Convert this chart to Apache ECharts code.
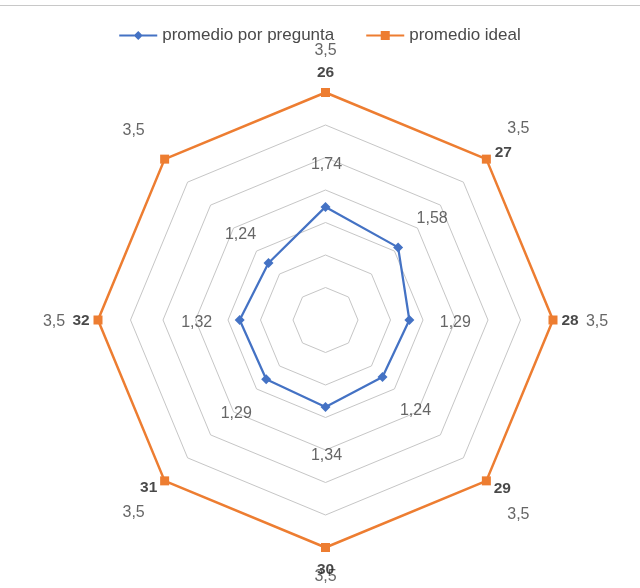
<!DOCTYPE html>
<html>
<head>
<meta charset="utf-8">
<script src="https://cdn.jsdelivr.net/npm/echarts@6/dist/echarts.min.js"></script>
<style>
html,body{margin:0;padding:0;background:#fff;}
#chart{width:640px;height:588px;}
</style>
</head>
<body>
<div id="chart"></div>
<script>
// ---- data (clockwise from the top) ----
const categories = ['26', '27', '28', '29', '30', '31', '32', ''];
const promedioPregunta = [1.74, 1.58, 1.29, 1.24, 1.34, 1.29, 1.32, 1.24];
const promedioIdeal = [3.5, 3.5, 3.5, 3.5, 3.5, 3.5, 3.5, 3.5];
const seriesNames = ['promedio por pregunta', 'promedio ideal'];
const axisMin = 0, axisMax = 3.5, ringCount = 7;

// ---- styling ----
const BLUE = '#4472C4', ORANGE = '#ED7D31';
const CENTER = [325.5, 320], RADIUS = 227.5;
const blueLabelOffsets = [[1,-42],[34,-29],[46,3],[33,34],[1,48],[-30,34],[-43,3],[-28,-28]];
const orangeLabelOffsets = [[0,-42],[32,-31],[44,2],[32,34],[0,29],[-31,32],[-44,2],[-31,-29]];
const nameOffsets = [[0,-20],[17,-6],[17,1],[16,8],[0,22],[-16,7],[-17,1],[0,0]];
const FONT = 'Liberation Sans';

// radar lays out indicators counter-clockwise -> reorder
const ccw = a => [a[0]].concat(a.slice(1).reverse());
const fmt = v => String(v).replace('.', ',');

const chart = echarts.init(document.getElementById('chart'), null, {renderer: 'canvas'});

function labelSeries(values, offsets, formatter, style) {
  return {
    type: 'scatter', coordinateSystem: 'polar', silent: true, z: 10,
    symbolSize: 1, itemStyle: {color: 'rgba(0,0,0,0)'},
    data: values.map((v, i) => ({value: [v, i], label: {offset: offsets[i]}})),
    label: Object.assign({show: true, position: 'inside', formatter: formatter}, style)
  };
}

chart.setOption({
  animation: false,
  backgroundColor: '#fff',
  graphic: [{type: 'line', shape: {x1: 0, y1: 5.5, x2: 640, y2: 5.5}, style: {stroke: '#c8c8c8', lineWidth: 1}}],
  legend: {
    top: 22, left: 'center', itemGap: 32, itemWidth: 38, itemHeight: 9,
    textStyle: {fontFamily: FONT, fontSize: 17, color: '#4a4a4a'},
    data: [
      {name: seriesNames[0], icon: 'path://M0,3.5 H38 V5.5 H0 Z M19,0 L23.5,4.5 L19,9 L14.5,4.5 Z', itemStyle: {color: BLUE}},
      {name: seriesNames[1], icon: 'path://M0,3.5 H38 V5.5 H0 Z M14.5,0 H23.5 V9 H14.5 Z', itemStyle: {color: ORANGE}}
    ]
  },
  radar: {
    center: CENTER, radius: RADIUS, startAngle: 90, shape: 'polygon', splitNumber: ringCount,
    indicator: ccw(categories).map(n => ({name: n, min: axisMin, max: axisMax})),
    axisName: {show: false},
    axisLine: {show: false}, axisTick: {show: false}, axisLabel: {show: false},
    splitArea: {show: false},
    splitLine: {lineStyle: {color: '#c6c6c6', width: 1}}
  },
  polar: {center: CENTER, radius: RADIUS},
  angleAxis: {type: 'category', data: categories, boundaryGap: false, startAngle: 90, clockwise: true, show: false},
  radiusAxis: {min: axisMin, max: axisMax, show: false},
  series: [
    {
      type: 'radar', z: 5,
      data: [
        {name: seriesNames[1], value: ccw(promedioIdeal), symbol: 'rect', symbolSize: 9,
         itemStyle: {color: ORANGE}, lineStyle: {color: ORANGE, width: 2.5}},
        {name: seriesNames[0], value: ccw(promedioPregunta), symbol: 'diamond', symbolSize: 10,
         itemStyle: {color: BLUE}, lineStyle: {color: BLUE, width: 2.25}}
      ]
    },
    labelSeries(promedioPregunta, blueLabelOffsets, p => fmt(promedioPregunta[p.dataIndex]),
      {fontFamily: FONT, fontSize: 16, color: '#404040'}),
    labelSeries(promedioIdeal, orangeLabelOffsets, p => fmt(promedioIdeal[p.dataIndex]),
      {fontFamily: FONT, fontSize: 16, color: '#404040'}),
    labelSeries(promedioIdeal, nameOffsets, p => categories[p.dataIndex],
      {fontFamily: FONT, fontSize: 15.5, fontWeight: 'bold', color: '#1a1a1a'})
  ]
});
</script>
</body>
</html>
